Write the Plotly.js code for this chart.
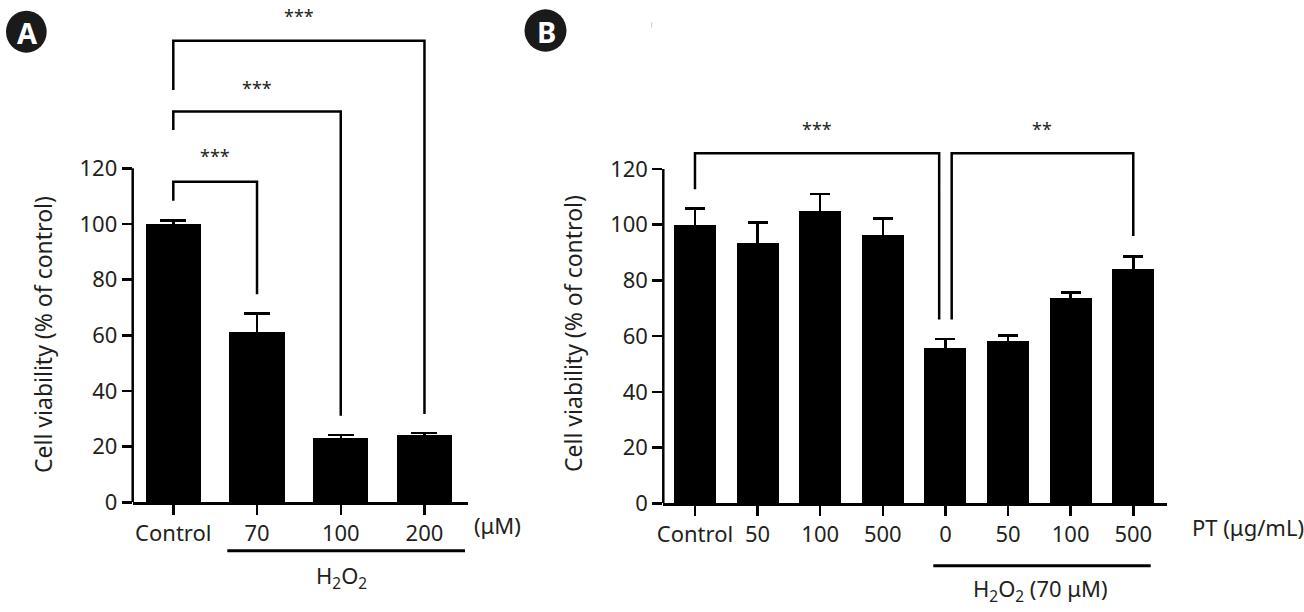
<!DOCTYPE html>
<html>
<head>
<meta charset="utf-8">
<script src="https://cdn.plot.ly/plotly-3.0.1.min.js"></script>
<style>
  html, body { margin: 0; padding: 0; background: #fff; }
  #chart { width: 1304px; height: 612px; }
</style>
</head>
<body>
<div id="chart"></div>
<script>
// Panel A: viability after H2O2 exposure (µM)
const doseLabelsA = ['Control', '70', '100', '200'];
const viabilityA = [100, 61.1, 23.1, 24.2];
const errorA = [1.2, 6.7, 1.0, 0.7];

// Panel B: PT pretreatment (µg/mL), with and without 70 µM H2O2
const doseLabelsB = ['Control', '50', '100', '500', '0', '50', '100', '500'];
const viabilityB = [100, 93.5, 105.0, 96.3, 55.9, 58.3, 73.8, 84.1];
const errorB = [5.8, 7.2, 6.1, 6.0, 3.0, 2.0, 1.8, 4.4];

const yTickValues = [0, 20, 40, 60, 80, 100, 120];
const starsA = ['***', '***', '***'];
const starsB = ['***', '**'];

const W = 1304, H = 612;
const px = x => x / W;
const py = y => 1 - y / H;
const TXT = '#231f20';
const FONT = 'Noto Sans, sans-serif';
const LW = 2.5;

const idx = arr => arr.map((_, i) => i);

const traces = [
  {
    type: 'bar', x: idx(viabilityA), y: viabilityA, width: 0.66,
    marker: { color: '#000', line: { width: 0 } },
    error_y: { type: 'data', array: errorA, symmetric: true, color: '#000', thickness: LW, width: 13 },
    xaxis: 'x', yaxis: 'y', hoverinfo: 'skip'
  },
  {
    type: 'bar', x: idx(viabilityB), y: viabilityB, width: 0.67,
    marker: { color: '#000', line: { width: 0 } },
    error_y: { type: 'data', array: errorB, symmetric: true, color: '#000', thickness: LW, width: 10 },
    xaxis: 'x2', yaxis: 'y2', hoverinfo: 'skip'
  }
];

const xCommon = {
  showline: true, linewidth: LW, linecolor: '#000',
  ticks: 'outside', ticklen: 10, tickwidth: LW, tickcolor: '#000',
  showgrid: false, zeroline: false, fixedrange: true,
  tickfont: { family: FONT, size: 22, color: TXT }
};
const yCommon = {
  range: [0, 180], tickvals: yTickValues,
  showline: false, ticks: 'outside', ticklen: 10, tickwidth: LW, tickcolor: '#000',
  showgrid: false, zeroline: false, fixedrange: true,
  tickfont: { family: FONT, size: 22, color: TXT }
};

// significance brackets: [from, to, top, left foot, right foot, star height]
const bracketsA = [
  [0, 1, 115.2, 108.4, 74.8, 124.4],
  [0, 2, 140.4, 133.8, 31.1, 148.8],
  [0, 3, 165.9, 148.2, 31.7, 174.6]
];
const bracketsB = [
  [0, 3.9, 125.6, 112.7, 66.0, 134.2],
  [4.1, 7, 125.6, 66.0, 95.9, 134.2]
];

const shapes = [];
const annotations = [];

function addBrackets(list, stars, xr, yr) {
  list.forEach((b, i) => {
    const [a, c, top, f0, f1, sy] = b;
    shapes.push({
      type: 'path', xref: xr, yref: yr,
      path: `M ${a},${f0} L ${a},${top} L ${c},${top} L ${c},${f1}`,
      line: { color: '#000', width: LW }
    });
    annotations.push({
      xref: xr, yref: yr, x: (a + c) / 2, y: sy, text: stars[i], showarrow: false,
      font: { family: FONT, size: 18, color: TXT }, xanchor: 'center', yanchor: 'middle'
    });
  });
}
addBrackets(bracketsA, starsA, 'x', 'y');
addBrackets(bracketsB, starsB, 'x2', 'y2');

// value axes drawn only over the 0-120 scale
shapes.push({ type: 'line', xref: 'x domain', yref: 'y', x0: 0, x1: 0, y0: 0, y1: 120, line: { color: '#000', width: LW } });
shapes.push({ type: 'line', xref: 'x2 domain', yref: 'y2', x0: 0, x1: 0, y0: 0, y1: 120, line: { color: '#000', width: LW } });

// treatment group bars under the category labels
shapes.push({ type: 'line', xref: 'paper', yref: 'paper', x0: px(227.3), x1: px(465), y0: py(550.7), y1: py(550.7), line: { color: '#000', width: 3 } });
shapes.push({ type: 'line', xref: 'paper', yref: 'paper', x0: px(933.3), x1: px(1150.7), y0: py(565.7), y1: py(565.7), line: { color: '#000', width: 3 } });

// panel badges
shapes.push({ type: 'circle', xref: 'paper', yref: 'paper', x0: px(6), x1: px(46.7), y0: py(52.7), y1: py(10.7), fillcolor: '#1a1a1a', line: { width: 0 } });
shapes.push({ type: 'circle', xref: 'paper', yref: 'paper', x0: px(524.5), x1: px(566.5), y0: py(51.7), y1: py(9.3), fillcolor: '#1a1a1a', line: { width: 0 } });
// faint stray mark beside the B header
shapes.push({ type: 'line', xref: 'paper', yref: 'paper', x0: px(651.7), x1: px(651.7), y0: py(22.5), y1: py(27.5), line: { color: '#c8c8c8', width: 1 } });

const label = (x, y, text, opts = {}) => Object.assign({
  xref: 'paper', yref: 'paper', x: px(x), y: py(y), text, showarrow: false,
  font: { family: FONT, size: 22, color: TXT }, xanchor: 'center', yanchor: 'middle'
}, opts);

annotations.push(
  label(43, 335, 'Cell viability (% of control)', { textangle: -90, font: { family: FONT, size: 23, color: TXT } }),
  label(573, 334, 'Cell viability (% of control)', { textangle: -90, font: { family: FONT, size: 23, color: TXT } }),
  label(471.5, 525, '(μM)', { xanchor: 'left' }),
  label(1190, 527, 'PT (μg/mL)', { xanchor: 'left' }),
  label(341.7, 577, 'H<sub>2</sub>O<sub>2</sub>'),
  label(1040, 590, 'H<sub>2</sub>O<sub>2</sub> (70 μM)'),
  label(27.5, 32, '<b>A</b>', { font: { family: FONT, size: 29, color: '#fff' } }),
  label(546, 31, '<b>B</b>', { font: { family: FONT, size: 29, color: '#fff' } })
);

const layout = {
  width: W, height: H,
  margin: { l: 0, r: 0, t: 0, b: 0 },
  paper_bgcolor: '#fff', plot_bgcolor: 'rgba(0,0,0,0)',
  showlegend: false, bargap: 0,
  font: { family: FONT, size: 22, color: TXT },
  xaxis: Object.assign({}, xCommon, {
    domain: [px(132.7), px(468)], range: [-0.485, 3.52], anchor: 'y',
    tickvals: idx(doseLabelsA), ticktext: doseLabelsA
  }),
  yaxis: Object.assign({}, yCommon, { domain: [py(502.3), py(1.4)], anchor: 'x' }),
  xaxis2: Object.assign({}, xCommon, {
    domain: [px(663.3), px(1166.7)], range: [-0.506, 7.534], anchor: 'y2',
    tickvals: idx(doseLabelsB), ticktext: doseLabelsB
  }),
  yaxis2: Object.assign({}, yCommon, { domain: [py(503.3), py(1.8)], anchor: 'x2' }),
  shapes, annotations
};

Plotly.newPlot('chart', traces, layout, { displayModeBar: false, staticPlot: true });
</script>
</body>
</html>
